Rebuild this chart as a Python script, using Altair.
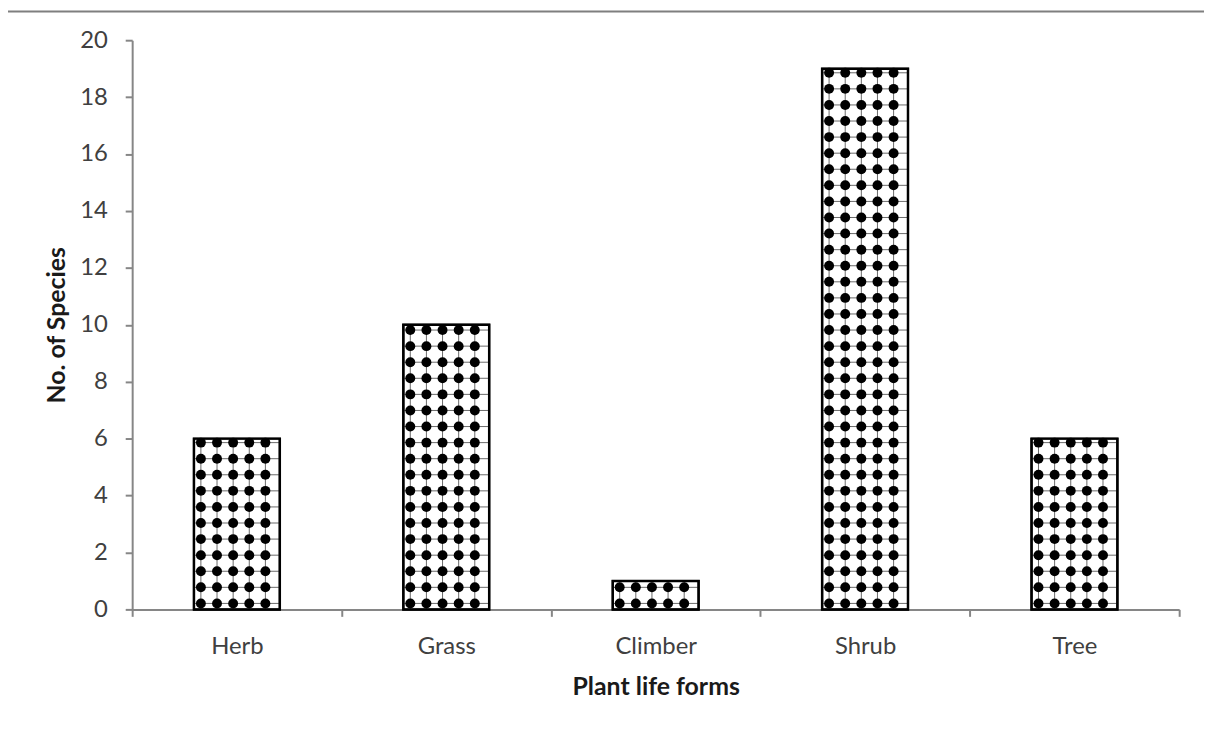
import json
import altair as alt
import pandas as pd

categories = ["Herb", "Grass", "Climber", "Shrub", "Tree"]
values = [6, 10, 1, 19, 6]

df = pd.DataFrame({"form": categories, "value": values, "idx": range(len(categories))})

FONT = "Lato"
W, H = 1054, 573
N = len(categories)
PAD_IN, PAD_OUT = 0.59, 0.295
BAR_L = PAD_OUT                     # bar left inside each band (fraction of step)
BAR_R = 1 - PAD_OUT                 # bar right
DOT_X0, DOT_DX = 7 / 211, 16.25 / 211  # pattern offsets (fraction of step)
ROW0, DROW = 0.21, 0.565            # pattern rows (value units)

band_scale = alt.Scale(paddingInner=PAD_IN, paddingOuter=PAD_OUT)
qscale = alt.Scale(domain=[0, N], nice=False, zero=False)

label_expr = f"datum.value < {N} ? {json.dumps(categories)}[datum.value] : ''"

x_axis = alt.Axis(
    title="Plant life forms",
    values=list(range(N + 1)),
    labelExpr=label_expr,
    labelOffset=W / N / 2,
    labelFlush=False,
    labelAlign="center",
    labelAngle=0,
    tickSize=7,
    labelPadding=18,
    titleY=78,
    titleBaseline="middle",
)

yenc = alt.Y(
    "value:Q",
    scale=alt.Scale(domain=[0, 20], nice=False),
    axis=alt.Axis(
        title="No. of Species",
        values=list(range(0, 21, 2)),
        grid=False,
        tickSize=7,
        labelPadding=18,
        titleX=-76,
        titleBaseline="middle",
    ),
)

base = alt.Chart(df)

bars_bg = base.mark_bar(fill="white", stroke="black", strokeWidth=2).encode(
    x=alt.X("form:N", sort=categories, scale=band_scale, axis=None), y=yenc
)

rows_src = base.transform_calculate(
    rows=f"sequence({ROW0}, datum.value, {DROW})",
    xl=f"datum.idx + {BAR_L}",
    xr=f"datum.idx + {BAR_R}",
).transform_flatten(["rows"])

cols_src = base.transform_calculate(
    cols="sequence(0, 5)"
).transform_flatten(["cols"]).transform_calculate(
    xq=f"datum.idx + {BAR_L} + {DOT_X0} + datum.cols * {DOT_DX}"
)

hlines = rows_src.mark_rule(color="#444444", strokeWidth=1, opacity=0.8).encode(
    x=alt.X("xl:Q", scale=qscale, axis=x_axis),
    x2="xr:Q",
    y=alt.Y("rows:Q"),
)

vlines = cols_src.mark_rule(color="#444444", strokeWidth=1, opacity=0.8).encode(
    x=alt.X("xq:Q", scale=qscale, axis=None),
    y=alt.Y("value:Q"),
    y2=alt.datum(0),
)

dots = cols_src.transform_calculate(
    rows=f"sequence({ROW0}, datum.value, {DROW})"
).transform_flatten(["rows"]).mark_point(
    shape="circle", filled=True, color="black", size=100, opacity=1
).encode(
    x=alt.X("xq:Q", scale=qscale, axis=None),
    y=alt.Y("rows:Q"),
)

bars_outline = base.mark_bar(
    fill="white", fillOpacity=0, stroke="black", strokeWidth=2.5
).encode(
    x=alt.X("form:N", sort=categories, scale=band_scale, axis=None),
    y=alt.Y("value:Q"),
)

frame = alt.Chart(alt.Data(values=[{"a": 1}])).mark_rect(
    fill="transparent", stroke="#7f7f7f", strokeWidth=2
).encode(
    x=alt.value(-127), y=alt.value(-29), x2=alt.value(1300), y2=alt.value(900)
)

chart = alt.layer(frame, bars_bg, hlines, vlines, dots, bars_outline).resolve_scale(
    x="independent"
).properties(
    width=W,
    height=H,
    autosize=alt.AutoSizeParams(type="none"),
    padding={"left": 125, "top": 30, "right": 25, "bottom": 118},
).configure_view(
    stroke="transparent"
).configure_axis(
    domainColor="#868686",
    domainWidth=2,
    tickColor="#868686",
    tickWidth=2,
    labelFont=FONT,
    labelFontSize=24,
    labelColor="#404040",
    titleFont=FONT,
    titleFontSize=25,
    titleFontWeight="bold",
    titleColor="#1a1a1a",
)

chart.save("out.html", embed_options={"renderer": "svg", "actions": False})
